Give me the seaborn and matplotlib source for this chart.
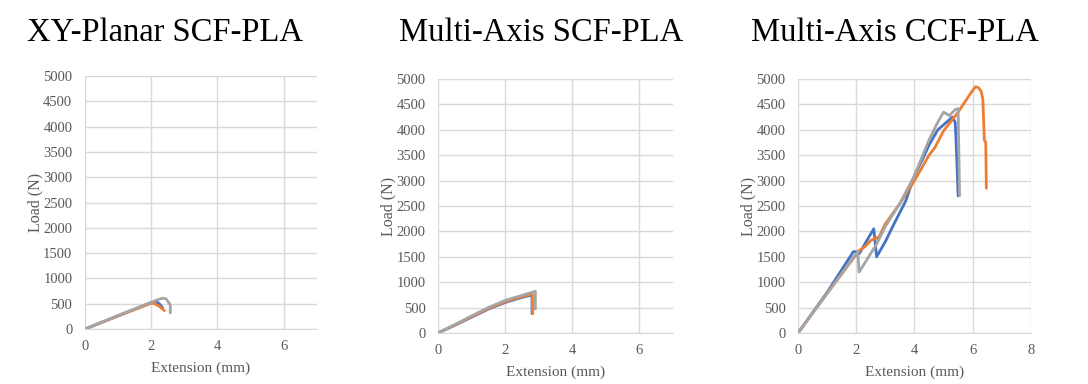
import numpy as np
import pandas as pd
import seaborn as sns
import matplotlib.pyplot as plt

# panel titles
titles = ['XY-Planar SCF-PLA', 'Multi-Axis SCF-PLA', 'Multi-Axis CCF-PLA']
series_names = ['Sample 1', 'Sample 2', 'Sample 3']
colors = ['#4472C4', '#ED7D31', '#A5A5A5']

# XY-Planar SCF-PLA
xy_ext_1 = [0, 0.5, 1.0, 1.5, 2.0, 2.15, 2.25, 2.35]
xy_load_1 = [0, 130, 260, 390, 520, 545, 500, 420]
xy_ext_2 = [0, 0.5, 1.0, 1.5, 2.0, 2.1, 2.25, 2.4]
xy_load_2 = [0, 130, 260, 385, 510, 505, 450, 365]
xy_ext_3 = [0, 0.5, 1.0, 1.5, 2.0, 2.2, 2.35, 2.45, 2.58, 2.58]
xy_load_3 = [0, 135, 270, 400, 530, 580, 610, 600, 480, 320]

# Multi-Axis SCF-PLA
ma_ext_1 = [0, 0.5, 1.0, 1.5, 2.0, 2.5, 2.8, 2.8]
ma_load_1 = [0, 150, 310, 470, 600, 700, 750, 380]
ma_ext_2 = [0, 0.5, 1.0, 1.5, 2.0, 2.5, 2.8, 2.82]
ma_load_2 = [0, 155, 320, 480, 615, 715, 770, 380]
ma_ext_3 = [0, 0.5, 1.0, 1.5, 2.0, 2.5, 2.9, 2.9]
ma_load_3 = [0, 165, 335, 500, 640, 740, 820, 470]

# Multi-Axis CCF-PLA
cc_ext_1 = [0, 1.0, 1.9, 2.0, 2.1, 2.6, 2.7, 3.0, 3.3, 3.7, 4.0, 4.3, 4.5, 4.8, 5.1, 5.3, 5.4, 5.45, 5.5]
cc_load_1 = [0, 800, 1600, 1600, 1560, 2050, 1500, 1800, 2150, 2600, 3100, 3450, 3700, 4000, 4150, 4250, 4150, 3500, 2700]
cc_ext_2 = [0, 1.0, 2.1, 2.3, 2.5, 2.7, 2.75, 3.0, 3.5, 4.0, 4.5, 4.7, 5.0, 5.5, 6.0, 6.1, 6.2, 6.3, 6.35, 6.4, 6.45, 6.47]
cc_load_2 = [0, 780, 1620, 1700, 1820, 1880, 1850, 2150, 2550, 3000, 3500, 3650, 3980, 4350, 4780, 4850, 4830, 4750, 4600, 3800, 3750, 2850]
cc_ext_3 = [0, 1.0, 2.05, 2.1, 2.7, 3.0, 3.5, 4.0, 4.5, 4.8, 5.0, 5.2, 5.4, 5.5, 5.55]
cc_load_3 = [0, 780, 1600, 1200, 1750, 2100, 2550, 3100, 3800, 4150, 4350, 4280, 4400, 4420, 2700]

panels = [
    [(xy_ext_1, xy_load_1), (xy_ext_2, xy_load_2), (xy_ext_3, xy_load_3)],
    [(ma_ext_1, ma_load_1), (ma_ext_2, ma_load_2), (ma_ext_3, ma_load_3)],
    [(cc_ext_1, cc_load_1), (cc_ext_2, cc_load_2), (cc_ext_3, cc_load_3)],
]
x_limits = [7, 7, 8]

sns.set_style('whitegrid')
plt.rcParams['font.family'] = ['Liberation Serif', 'DejaVu Serif']

fig = plt.figure(figsize=(10.88, 3.84), dpi=100)
boxes = [[0.078, 0.143, 0.213, 0.659],
         [0.4026, 0.133, 0.216, 0.661],
         [0.7335, 0.133, 0.214, 0.661]]
title_x = [0.152, 0.497, 0.823]

for i, series in enumerate(panels):
    ax = fig.add_axes(boxes[i])
    frames = []
    for name, (ext, load) in zip(series_names, series):
        frames.append(pd.DataFrame({'ext': ext, 'load': load, 'sample': name}))
    df = pd.concat(frames, ignore_index=True)
    sns.lineplot(data=df, x='ext', y='load', hue='sample', palette=colors,
                 sort=False, estimator=None, linewidth=2, legend=False, ax=ax)
    ax.set_xlim(0, x_limits[i])
    ax.set_ylim(0, 5000)
    ax.set_xticks(np.arange(0, x_limits[i] + 0.1, 2))
    ax.set_yticks(np.arange(0, 5001, 500))
    ax.grid(True, color='#D9D9D9', linewidth=1)
    for s in ['top', 'right', 'left']:
        ax.spines[s].set_visible(False)
    ax.spines['bottom'].set_color('#D9D9D9')
    ax.tick_params(axis='both', length=0, labelsize=10.5, labelcolor='#595959')
    ax.tick_params(axis='x', pad=8)
    ax.tick_params(axis='y', pad=9)
    ax.set_xlabel('Extension (mm)', fontsize=11, color='#595959', labelpad=6)
    ax.set_ylabel('Load (N)', fontsize=11.5, color='#595959', labelpad=0)
    fig.text(title_x[i], 0.915, titles[i], ha='center', va='center', fontsize=23.5, color='black')

fig.savefig('out.png', dpi=100)
